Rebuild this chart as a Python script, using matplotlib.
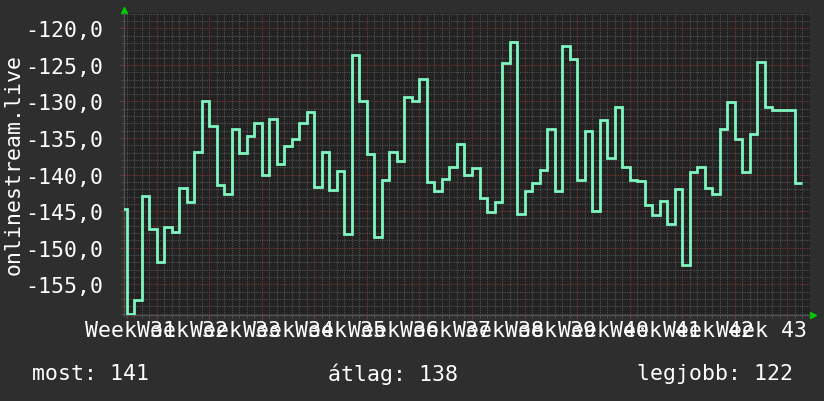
import numpy as np
import matplotlib.pyplot as plt
import matplotlib.ticker as mticker

# daily values (one step per day)
values = [
    -144.7, -159.0, -157.1, -142.9, -147.5, -152.0, -147.1, -147.9, -141.8, -143.7,
    -136.9, -130.0, -133.3, -141.4, -142.6, -133.7, -137.0, -134.7, -132.9, -140.0,
    -132.4, -138.5, -136.1, -135.1, -133.0, -131.4, -141.7, -136.9, -142.1, -139.5,
    -148.1, -123.7, -129.9, -137.2, -148.6, -140.7, -136.9, -138.1, -129.4, -129.9,
    -126.9, -141.0, -142.2, -140.6, -139.0, -135.8, -140.1, -139.1, -143.2, -145.1,
    -143.7, -124.7, -121.8, -145.4, -142.2, -141.1, -139.4, -133.7, -142.2, -122.4,
    -124.2, -140.7, -134.1, -145.0, -132.5, -137.7, -130.8, -138.9, -140.7, -140.9,
    -144.2, -145.5, -143.6, -146.7, -142.0, -152.4, -139.7, -138.9, -141.8, -142.7,
    -133.8, -130.1, -135.1, -139.6, -134.5, -124.6, -130.8, -131.1, -131.1, -131.1,
    -141.1,
]
week_labels = ["Week 31", "Week 32", "Week 33", "Week 34", "Week 35", "Week 36",
               "Week 37", "Week 38", "Week 39", "Week 40", "Week 41", "Week 42",
               "Week 43"]
y_ticks = [-155, -150, -145, -140, -135, -130, -125, -120]
ylabel = "onlinestream.live"
legend_text = ["most: 141", "átlag: 138", "legjobb: 122"]

FONT = "DejaVu Sans Mono"
FS = 15.5
BG = "#2e2e2e"
PLOT_BG = "#222222"
LINE = "#80f5c0"
MINOR = "#535353"
MAJOR = "#7a3636"

fig = plt.figure(figsize=(8.24, 4.02), dpi=100, facecolor=BG)
ax = fig.add_axes([0.1508, 0.2139, 0.983 - 0.1508, 0.9652 - 0.2139])
ax.set_facecolor(PLOT_BG)

edges = np.arange(len(values) + 1)
ax.stairs(values, edges, baseline=None, color=LINE, linewidth=2.0, zorder=5)

ax.set_xlim(0.68, 92.02)
ax.set_ylim(-159.2, -117.9)

# grid: minor every day / every unit, major every week / every 5 units
week_ticks = np.arange(5, 92, 7)
ax.set_xticks(week_ticks)
ax.set_xticks(np.arange(1, 92), minor=True)
ax.set_yticks(y_ticks)
ax.yaxis.set_minor_locator(mticker.MultipleLocator(1))
ax.set_xticklabels([])
ax.set_yticklabels([f"{v:.1f}".replace(".", ",") for v in y_ticks],
                   fontsize=FS, family=FONT, color="white")

ax.grid(which="minor", color=MINOR, linestyle=(0, (1, 1)), linewidth=0.8)
ax.grid(which="major", color=MAJOR, linestyle=(0, (1, 1)), linewidth=0.8)
ax.set_axisbelow(True)

ax.tick_params(axis="x", which="major", length=3, color=MAJOR)
ax.tick_params(axis="x", which="minor", length=2, color=MINOR)
ax.tick_params(axis="y", which="major", length=3, color=MAJOR, pad=12)
ax.tick_params(axis="y", which="minor", length=2, color=MINOR)

for side in ["top", "right"]:
    ax.spines[side].set_visible(False)
for side in ["left", "bottom"]:
    ax.spines[side].set_color("#505050")
    ax.spines[side].set_linewidth(1.0)

# week labels centred on the middle of each week
for i, lab in enumerate(week_labels):
    ax.text(1.5 + 7 * i, -0.05, lab, transform=ax.get_xaxis_transform(),
            ha="center", va="center", fontsize=FS, family=FONT, color="white")

# arrow heads at the axis ends
ax.plot([0], [1.01], marker="^", color="#00cc00", markersize=5,
        transform=ax.transAxes, clip_on=False)
ax.plot([1.004], [0], marker=">", color="#00cc00", markersize=5,
        transform=ax.transAxes, clip_on=False)

fig.text(0.017, 0.59, ylabel, rotation=90, ha="center", va="center",
         fontsize=FS, family=FONT, color="white")

for xpos, txt in zip([0.039, 0.398, 0.7727], legend_text):
    fig.text(xpos, 0.0697, txt, ha="left", va="center",
             fontsize=FS, family=FONT, color="white")

fig.savefig("out.png", dpi=100, facecolor=BG)
